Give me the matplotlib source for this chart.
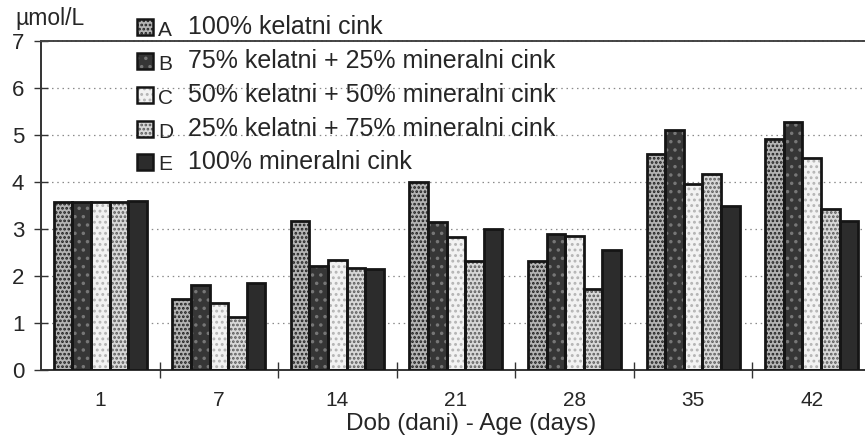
import matplotlib
matplotlib.use("Agg")
import matplotlib.pyplot as plt
from matplotlib.patches import Rectangle
import numpy as np

plt.rcParams['font.family'] = ['Liberation Sans', 'DejaVu Sans']
plt.rcParams['hatch.linewidth'] = 1.3

# data
days = ['1', '7', '14', '21', '28', '35', '42']
groups = ['A', 'B', 'C', 'D', 'E']
group_labels = ['100% kelatni cink',
                '75% kelatni + 25% mineralni cink',
                '50% kelatni + 50% mineralni cink',
                '25% kelatni + 75% mineralni cink',
                '100% mineralni cink']
zn_a = [3.57, 1.52, 3.16, 4.01, 2.32, 4.59, 4.92]
zn_b = [3.57, 1.80, 2.21, 3.15, 2.89, 5.10, 5.27]
zn_c = [3.57, 1.42, 2.34, 2.83, 2.85, 3.96, 4.51]
zn_d = [3.57, 1.13, 2.18, 2.32, 1.72, 4.18, 3.43]
zn_e = [3.60, 1.85, 2.14, 2.99, 2.56, 3.50, 3.18]
series = [zn_a, zn_b, zn_c, zn_d, zn_e]

# bar styles: face colour, hatch colour, hatch
styles = [('#b4b4b4', '#1e1e1e', '....'),
          ('#363636', '#777777', '..'),
          ('#f2f2f2', '#b4b4b4', '...'),
          ('#d8d8d8', '#5a5a5a', '....'),
          ('#2c2c2c', '#2c2c2c', None)]

W, H = 865, 437
txt = '#262626'

fig = plt.figure(figsize=(W / 100, H / 100), dpi=100)
ax = fig.add_axes([41 / W, 1 - 370 / H, 1 - 41 / W, (370 - 41) / H])

x = np.arange(len(days))
width = 0.157
for i, vals in enumerate(series):
    off = (i - 2) * width
    face, hcol, hatch = styles[i]
    ax.bar(x + off, vals, width, color=face, edgecolor=hcol, hatch=hatch,
           linewidth=0, zorder=2)
    ax.bar(x + off, vals, width, fill=False, edgecolor='#151515',
           linewidth=2.0, zorder=3)

ax.set_xlim(-0.5, 6.45)
ax.set_ylim(0, 7)

# grid and frame
for v in range(1, 7):
    ax.axhline(v, color='#8a8a8a', lw=0.9, ls=(0, (1.2, 3)), zorder=1)
ax.spines['right'].set_visible(False)
ax.spines['top'].set_color('#444444')
ax.spines['top'].set_linewidth(1.4)
ax.spines['top'].set_linestyle((0, (1.5, 0.8)))
ax.spines['left'].set_color('#333333')
ax.spines['left'].set_linewidth(1.4)
ax.spines['bottom'].set_color('#333333')
ax.spines['bottom'].set_linewidth(1.4)

ax.set_yticks(range(0, 8))
ax.tick_params(axis='y', direction='inout', length=10, width=1,
               colors='#333333', labelcolor=txt, labelsize=16, pad=7)
ax.set_xticks(x)
ax.set_xticklabels(days)
ax.set_xticks(x[:-1] + 0.5, minor=True)
ax.tick_params(axis='x', which='major', length=0, labelsize=15,
               labelcolor=txt, pad=15)
ax.tick_params(axis='x', which='minor', direction='inout', length=12,
               width=1, colors='#333333')

# axis titles
fig.text(15 / W, 1 - 19 / H, 'µmol/L', fontsize=16.5, color=txt,
         ha='left', va='center')
fig.text(471 / W, 1 - 424 / H, 'Dob (dani) - Age (days)', fontsize=17.5,
         color=txt, ha='center', va='center')

# legend
rows = [27, 61, 95, 129, 162]
for i, (g, lab) in enumerate(zip(groups, group_labels)):
    face, hcol, hatch = styles[i]
    yc = rows[i]
    fig.add_artist(Rectangle((137 / W, 1 - (yc + 8) / H), 16 / W, 16 / H,
                             transform=fig.transFigure, facecolor=face,
                             edgecolor=hcol, hatch=hatch, linewidth=0,
                             zorder=4))
    fig.add_artist(Rectangle((137 / W, 1 - (yc + 8) / H), 16 / W, 16 / H,
                             transform=fig.transFigure, fill=False,
                             edgecolor='#151515', linewidth=1.8, zorder=5))
    fig.text(158 / W, 1 - (yc + 3) / H, g, fontsize=15, color=txt,
             ha='left', va='center')
    fig.text(188 / W, 1 - yc / H, lab, fontsize=18, color=txt,
             ha='left', va='center')

fig.savefig('out.png', dpi=100)
